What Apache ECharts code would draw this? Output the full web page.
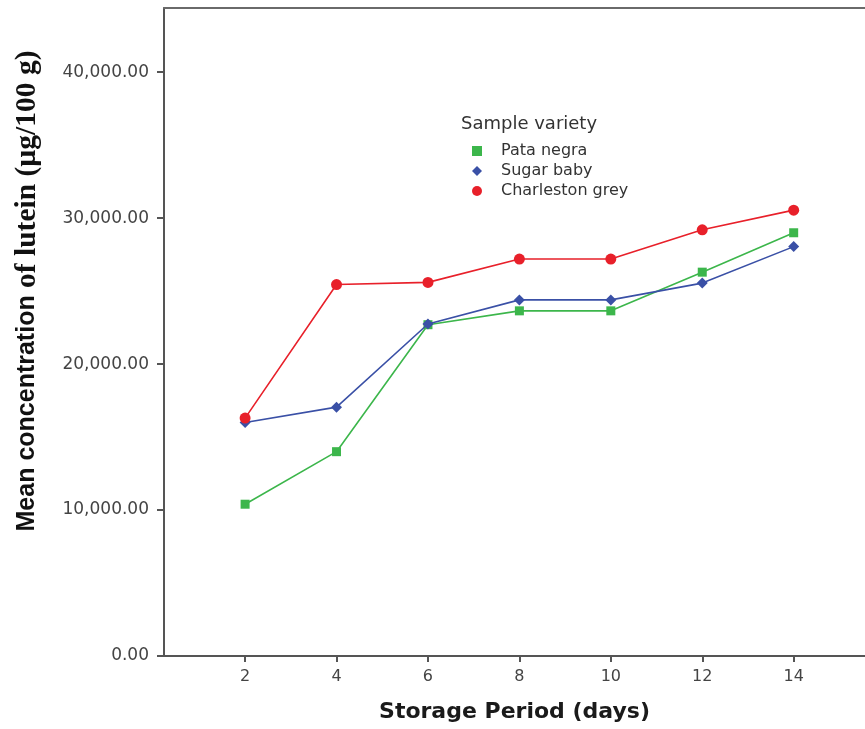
<!DOCTYPE html>
<html>
<head>
<meta charset="utf-8">
<script src="https://cdn.jsdelivr.net/npm/echarts@6/dist/echarts.min.js"></script>
<style>html,body{margin:0;padding:0;background:#fff}#chart{width:865px;height:729px}</style>
</head>
<body>
<div id="chart"></div>
<script>
const days = [2, 4, 6, 8, 10, 12, 14];
const pataNegra = [10400, 14000, 22700, 23650, 23650, 26300, 29000];
const sugarBaby = [16000, 17050, 22750, 24400, 24400, 25550, 28050];
const charlestonGrey = [16300, 25450, 25600, 27200, 27200, 29200, 30550];
const yTicks = [0, 10000, 20000, 30000, 40000];
const xTicks = [2, 4, 6, 8, 10, 12, 14];
const seriesNames = ['Pata negra', 'Sugar baby', 'Charleston grey'];

const colors = ['#3cb64b', '#3a50a6', '#e8202a'];
const symbols = ['rect', 'diamond', 'circle'];
const sizes = [9, 11, 11];
const values = [pataNegra, sugarBaby, charlestonGrey];

const chart = echarts.init(document.getElementById('chart'), null, {renderer: 'canvas'});
const fmt = v => Number(v).toLocaleString('en-US', {minimumFractionDigits: 2, maximumFractionDigits: 2});
const X_MIN = 0.226, X_MAX = 15.56;

chart.setOption({
  animation: false,
  backgroundColor: '#fff',
  grid: {left: 164, top: 8, right: 0, bottom: 73, show: false},
  xAxis: [{
    type: 'value', min: X_MIN, max: X_MAX,
    name: 'Storage Period (days)', nameLocation: 'middle', nameGap: 45,
    nameTextStyle: {fontFamily: 'DejaVu Sans', fontWeight: 'bold', fontSize: 22, color: '#1a1a1a'},
    axisLine: {show: true, onZero: false, lineStyle: {color: '#555', width: 2}},
    axisTick: {show: true, customValues: xTicks, length: 6, lineStyle: {color: '#555', width: 2}},
    axisLabel: {customValues: xTicks, margin: 13, fontFamily: 'DejaVu Sans', fontSize: 16, color: '#444'},
    splitLine: {show: false}
  }, {
    type: 'value', position: 'top', min: X_MIN, max: X_MAX,
    axisLine: {show: true, onZero: false, lineStyle: {color: '#6a6a6a', width: 2}},
    axisTick: {show: false}, axisLabel: {show: false}, splitLine: {show: false}
  }],
  yAxis: {
    type: 'value', min: 0, max: 44400,
    axisLine: {show: true, onZero: false, lineStyle: {color: '#555', width: 2}},
    axisTick: {show: true, customValues: yTicks, length: 7, lineStyle: {color: '#555', width: 2}},
    axisLabel: {customValues: yTicks, margin: 15, formatter: fmt, fontFamily: 'DejaVu Sans', fontSize: 17, color: '#444'},
    splitLine: {show: false}
  },
  legend: {
    orient: 'vertical', left: 467, top: 138, itemWidth: 10, itemHeight: 10, itemGap: 4,
    textStyle: {fontFamily: 'DejaVu Sans', fontSize: 16, lineHeight: 16, color: '#333', padding: [0, 0, 0, 14]},
    data: seriesNames.map((n, i) => ({name: n, icon: symbols[i]}))
  },
  graphic: [
    {
      type: 'text', left: 461, top: 115,
      style: {text: 'Sample variety', fontFamily: 'DejaVu Sans', fontSize: 18, fill: '#333'}
    },
    {
      type: 'text', x: 27, y: 291, rotation: Math.PI / 2,
      style: {
        text: '{a|Mean concentration}{b| of lutein (µg/100 g)}',
        align: 'center', verticalAlign: 'middle',
        rich: {
          a: {fontFamily: 'Liberation Sans', fontWeight: 'bold', fontSize: 25, fill: '#111'},
          b: {fontFamily: 'Liberation Serif', fontWeight: 'bold', fontSize: 29.5, fill: '#111'}
        }
      }
    }
  ],
  series: seriesNames.map((n, i) => ({
    name: n, type: 'line',
    data: days.map((d, j) => [d, values[i][j]]),
    symbol: symbols[i], symbolSize: sizes[i],
    itemStyle: {color: colors[i]},
    lineStyle: {color: colors[i], width: 1.6},
    z: 2 + i
  }))
});
</script>
</body>
</html>
